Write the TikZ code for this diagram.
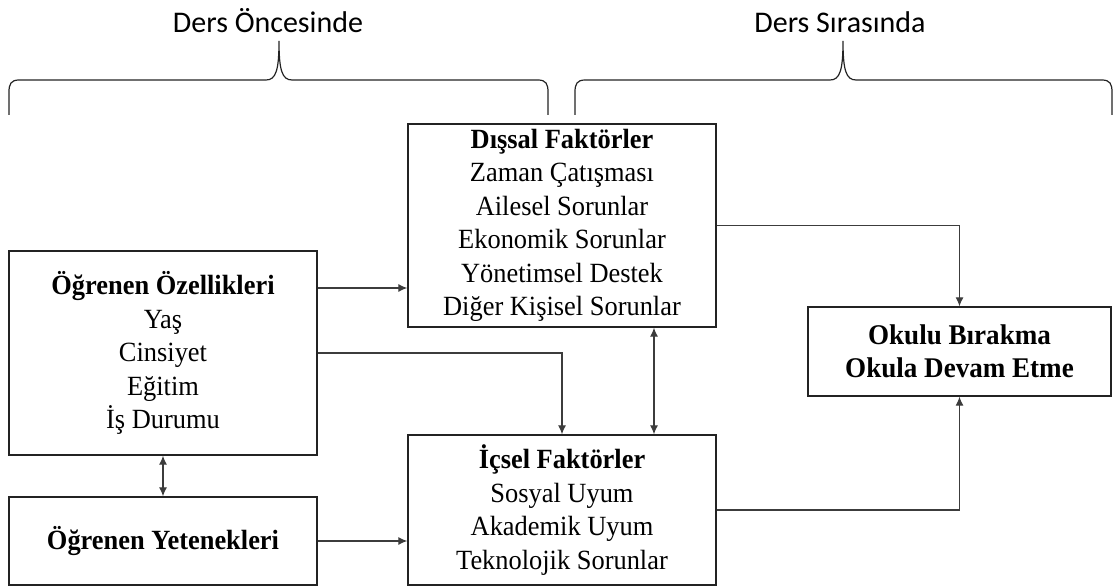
\documentclass[tikz,border=0pt]{standalone}
\usepackage{fontspec}
\setmainfont{Liberation Serif}[FakeStretch=0.95]
\newfontfamily\labelfont{Carlito}
\usetikzlibrary{arrows.meta}
\definecolor{ink}{RGB}{35,35,35}
\definecolor{wire}{RGB}{60,60,60}
\tikzset{
  box/.style={draw=ink, line width=1.3pt, inner sep=0pt, align=center,
    font=\fontsize{27.8}{33.5}\selectfont},
  arr/.style={draw=wire, line width=1.2pt, -{Latex[length=9pt,width=8pt]}},
  darr/.style={draw=wire, line width=1.2pt, {Latex[length=9pt,width=8pt]}-{Latex[length=9pt,width=8pt]}},
  bracket/.style={draw=ink, line width=1.2pt},
  phase/.style={anchor=base, font=\labelfont\fontsize{30}{36}\selectfont, text=black},
}
\begin{document}
\begin{tikzpicture}[x=1pt,y=-1pt]
\useasboundingbox (0,0) rectangle (1114,588);

% phase labels and their braces
\node[phase] (pre) at (268,33) {Ders Öncesinde};
\node[phase] (dur) at (840,33) {Ders Sırasında};
\draw[bracket] (9,115) -- (9,92) .. controls (9,84) and (11,80) .. (19,80)
  -- (266,80) .. controls (276,80) and (279,70) .. (279,41)
  .. controls (279,70) and (282,80) .. (292,80) -- (538,80)
  .. controls (546,80) and (548,84) .. (548,92) -- (548,115);
\draw[bracket] (575,115) -- (575,92) .. controls (575,84) and (577,80) .. (585,80)
  -- (830,80) .. controls (840,80) and (843,70) .. (843,41)
  .. controls (843,70) and (846,80) .. (856,80) -- (1102,80)
  .. controls (1110,80) and (1112,84) .. (1112,92) -- (1112,115);

% boxes
\node[box, minimum width=308pt, minimum height=204pt] (ozel) at (163,353)
  {\textbf{Öğrenen Özellikleri}\\Yaş\\Cinsiyet\\Eğitim\\İş Durumu};
\node[box, minimum width=308pt, minimum height=88pt] (yet) at (163,541)
  {\textbf{Öğrenen Yetenekleri}};
\node[box, minimum width=308pt, minimum height=203pt] (dis) at (562,225.5)
  {\textbf{Dışsal Faktörler}\\Zaman Çatışması\\Ailesel Sorunlar\\Ekonomik Sorunlar\\Yönetimsel Destek\\Diğer Kişisel Sorunlar};
\node[box, minimum width=308pt, minimum height=150pt] (ic) at (562,510)
  {\textbf{İçsel Faktörler}\\Sosyal Uyum\\Akademik Uyum\\Teknolojik Sorunlar};
\node[box, minimum width=303pt, minimum height=89pt, font=\bfseries\fontsize{28.5}{33}\selectfont] (ok) at (959.5,351.5)
  {Okulu Bırakma\\Okula Devam Etme};

% connectors
\draw[arr] (ozel.east |- 0,288) -- (dis.west |- 0,288);
\draw[arr] (ozel.east) -| (ic.north);
\draw[darr] (dis.south -| 654,0) -- (ic.north -| 654,0);
\draw[darr] (ozel.south) -- (yet.north);
\draw[arr] (yet.east) -- (yet.east -| ic.west);
\draw[arr] (dis.east) -| (ok.north);
\draw[arr] (ic.east) -| (ok.south);
\end{tikzpicture}
\end{document}
